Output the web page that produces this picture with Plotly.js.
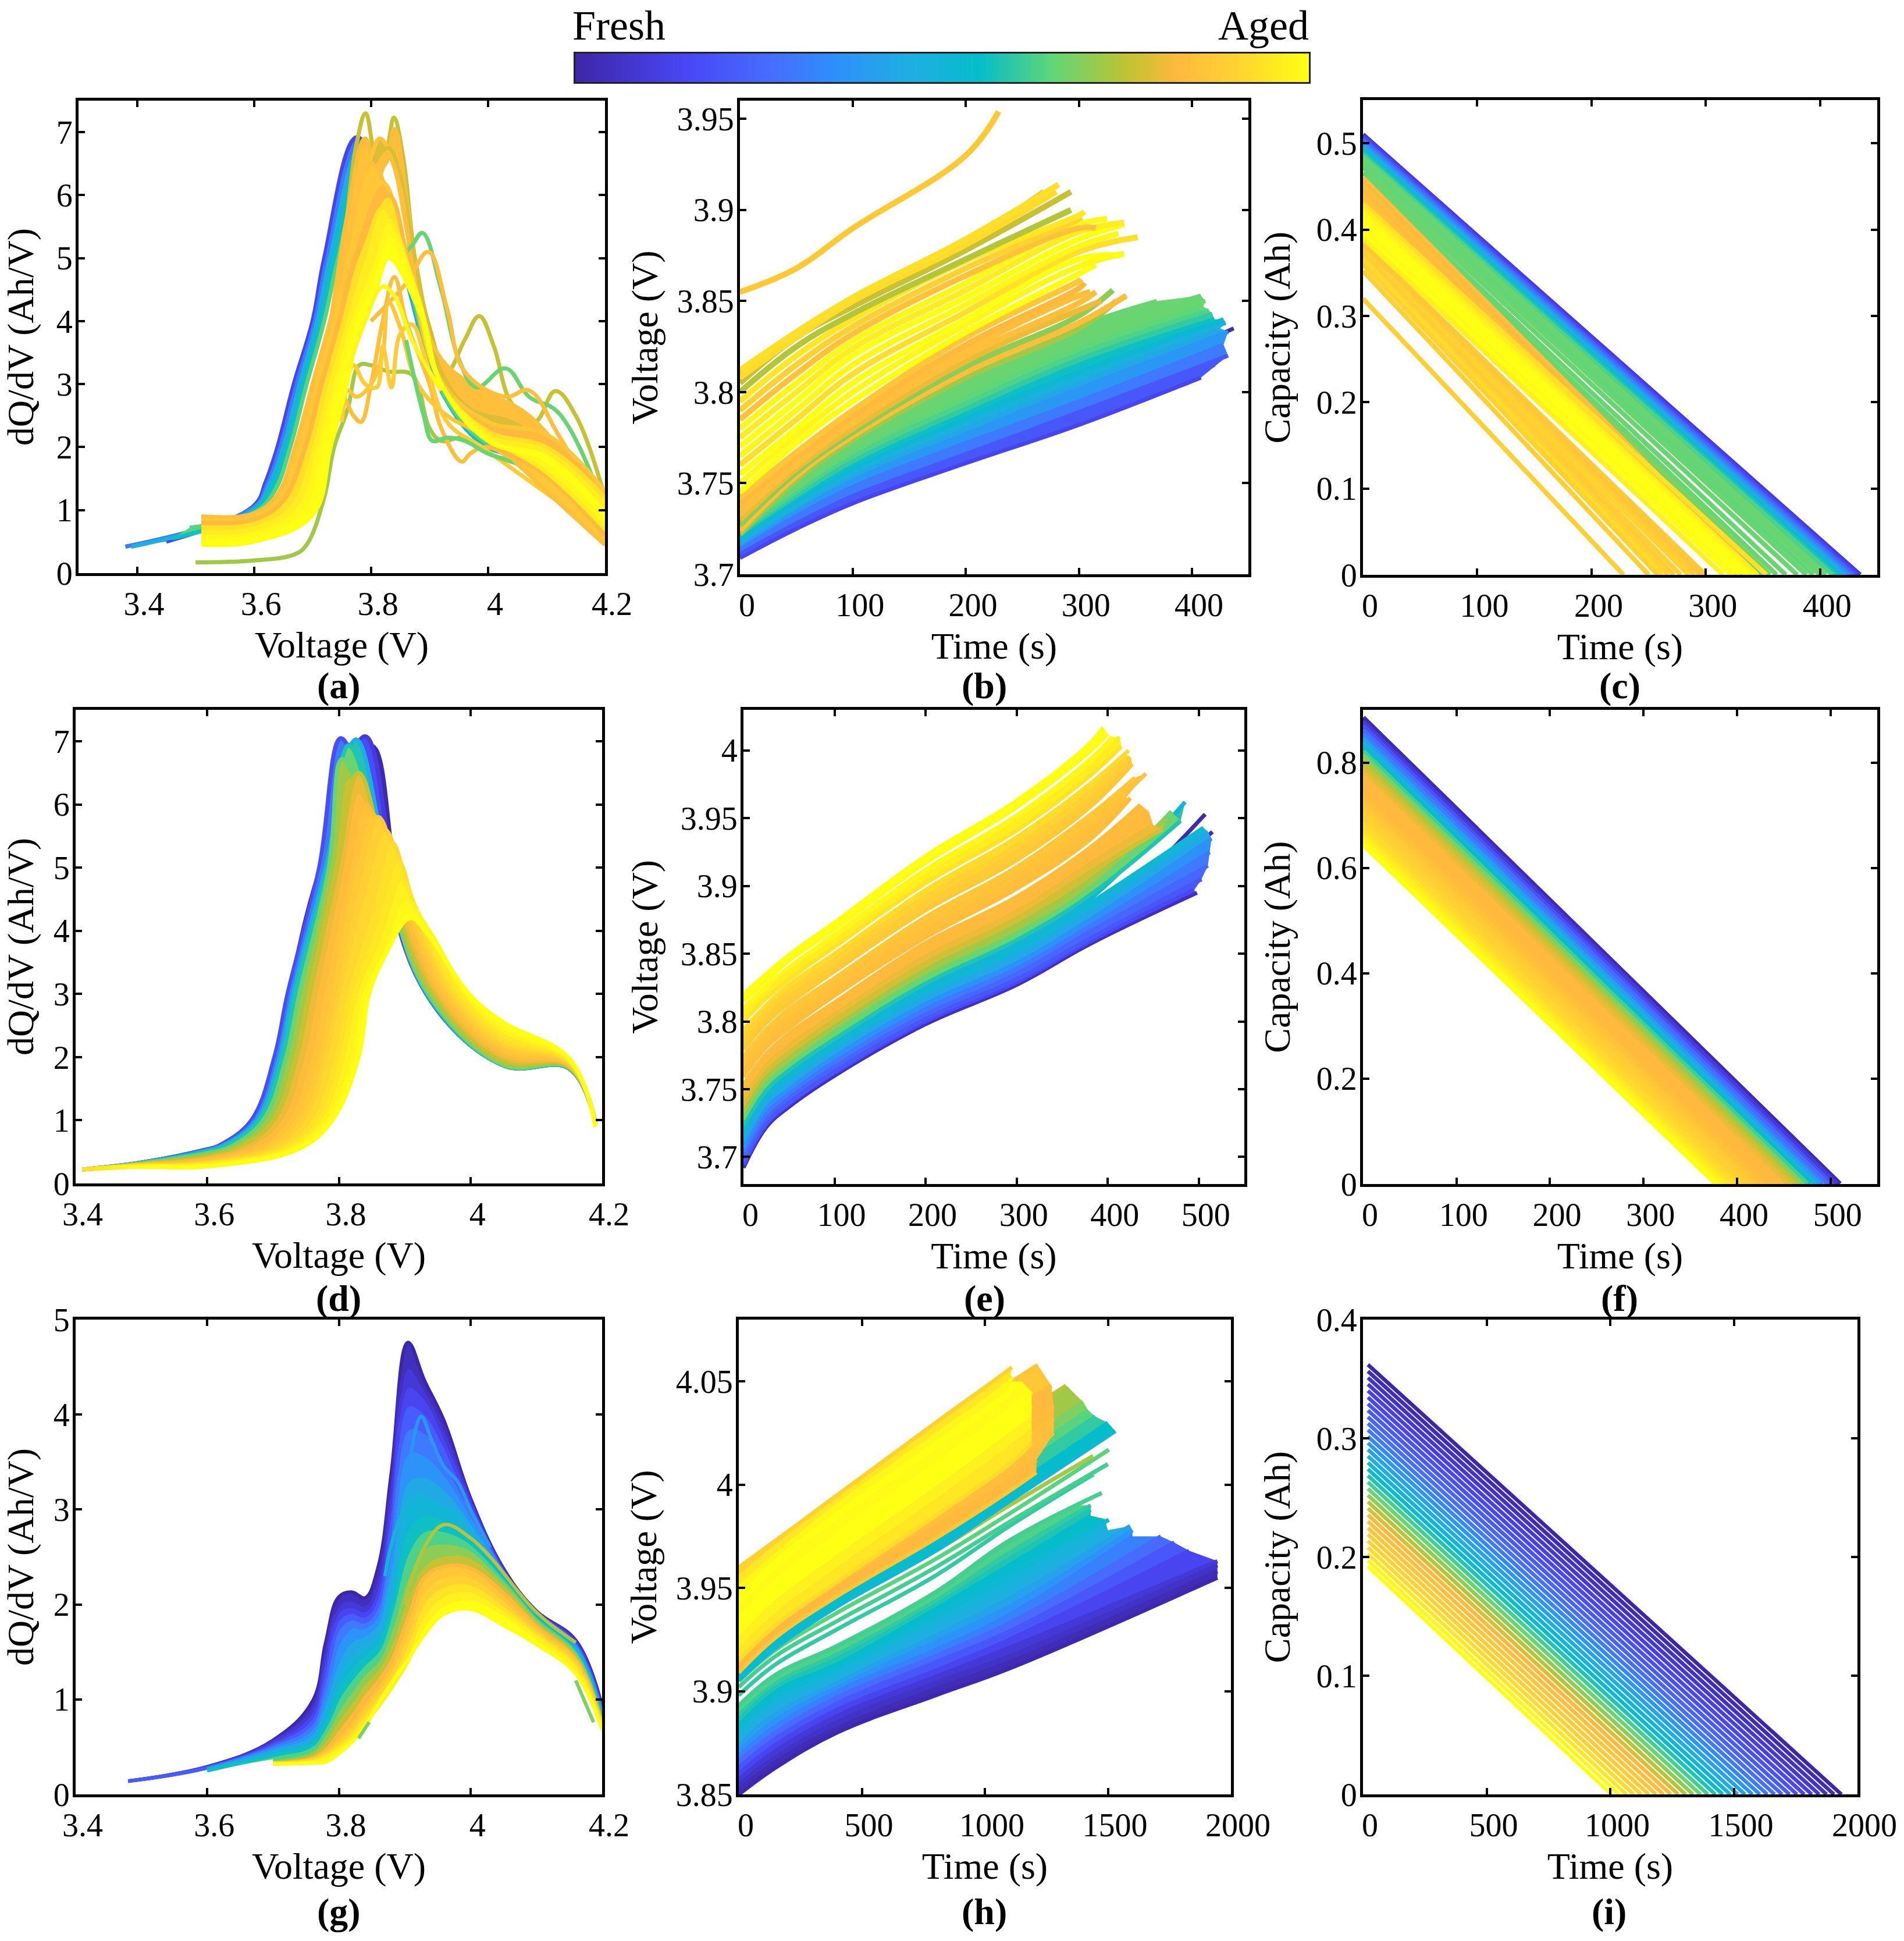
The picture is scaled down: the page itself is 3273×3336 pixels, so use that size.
<!DOCTYPE html>
<html>
<head>
<meta charset="utf-8">
<script src="https://cdn.plot.ly/plotly-3.0.1.min.js"></script>
<style>body{margin:0;background:#fff}#chart{width:3273px;height:3336px}</style>
</head>
<body>
<div id="chart"></div>
<script>
// colour scale, fresh (0) to aged (1)
var agePositions = [0, 0.15, 0.27, 0.36, 0.46, 0.55, 0.65, 0.75, 0.82, 0.9, 1];
var ageColors = ['#3e26a8', '#4846f5', '#466eff', '#2d91fa', '#1eafe1', '#05bccb', '#5fd778', '#bec332', '#ffb93c', '#ffd232', '#ffff14'];
var barValues = [0, 0.1, 0.2, 0.3, 0.4, 0.5, 0.6, 0.7, 0.8, 0.9, 1];

// (a) dQ/dV of first set
var aVolts = [
  [3.45,3.6,3.62,3.64,3.668,3.7,3.72,3.776,3.85,3.92,4,4.1,4.2],
  [3.38,3.6,3.623,3.645,3.673,3.704,3.725,3.78,3.85,3.92,4,4.1,4.2],
  [3.39,3.6,3.626,3.65,3.678,3.708,3.73,3.785,3.85,3.92,4,4.1,4.2],
  [3.46,3.6,3.63,3.656,3.684,3.714,3.737,3.79,3.855,3.92,4,4.1,4.2],
  [3.49,3.6,3.635,3.662,3.69,3.72,3.744,3.795,3.855,3.92,4,4.1,4.2],
  [3.5,3.6,3.67,3.69,3.72,3.737,3.76,3.78,3.8,3.83,3.87,3.9,3.92,3.96,4,4.1,4.2],
  [3.7,3.75,3.775,3.791,3.81,3.825,3.839,3.855,3.875,3.9,3.93,3.96,3.985,4.01,4.04,4.08,4.115,4.15,4.2],
  [3.71,3.76,3.79,3.81,3.825,3.84,3.86,3.88,3.92,3.98,4.05,4.1,4.2],
  [3.72,3.765,3.8,3.815,3.835,3.86,3.88,3.93,4,4.06,4.12,4.2],
  [3.73,3.77,3.8,3.83,3.85,3.875,3.92,3.97,4.04,4.1,4.2],
  [3.74,3.78,3.81,3.83,3.85,3.88,3.92,3.99,4.07,4.2],
  [3.85,3.87,3.888,3.92,3.95,3.98,4.03,4.07,4.12,4.2],
  [3.8,3.86,3.898,3.93,3.96,4.03,4.07,4.12,4.2],
  [3.7,3.75,3.77,3.783,3.8,3.82,3.84,3.86,3.9,3.92,3.955,3.97,4,4.08,4.2],
  [3.74,3.76,3.775,3.8,3.82,3.83,3.85,3.88,3.93,3.99,4.08,4.2],
  [3.75,3.77,3.79,3.81,3.82,3.835,3.85,3.87,3.89,3.93,3.99,4.08,4.2],
  [3.86,3.89,3.905,3.93,3.96,4,4.1],
  [3.51,3.6,3.64,3.67,3.7,3.73,3.755,3.8,3.855,3.92,4,4.1,4.2],
  [3.51,3.6,3.645,3.68,3.708,3.738,3.765,3.82,3.86,3.92,4,4.1,4.2],
  [3.51,3.6,3.65,3.688,3.716,3.746,3.775,3.83,3.865,3.92,4,4.1,4.2],
  [3.51,3.6,3.66,3.696,3.724,3.754,3.787,3.82,3.87,3.92,4,4.1,4.2],
  [3.51,3.6,3.67,3.704,3.732,3.762,3.8,3.83,3.875,3.92,4,4.1,4.2],
  [3.51,3.6,3.68,3.712,3.74,3.77,3.805,3.83,3.88,3.92,4,4.1,4.2],
  [3.51,3.6,3.69,3.72,3.748,3.776,3.81,3.83,3.885,3.92,4,4.1,4.2],
  [3.51,3.6,3.695,3.727,3.754,3.78,3.81,3.83,3.885,3.92,4,4.1,4.2],
  [3.51,3.6,3.7,3.731,3.759,3.783,3.81,3.83,3.885,3.92,4,4.1,4.2],
  [3.76,3.79,3.82,3.84,3.87,3.92]
];
var aRates = [
  [0.5,1.07,1.45,2,3,4,5,6.92,5,2.9,2,1.8,0.9],
  [0.42,1.05,1.42,2,3,4,5,6.85,5,2.9,2,1.8,0.9],
  [0.42,1.02,1.4,2,3,4,5,6.8,5,2.9,2,1.8,0.9],
  [0.55,0.99,1.35,2,3,4,5,6.72,5,2.9,2,1.85,0.9],
  [0.72,0.96,1.3,2,3,4,5,6.65,5,2.92,2.05,1.85,1],
  [0.17,0.2,0.3,0.45,1.2,2,2.6,3.3,3.3,3.2,3.15,2.3,2.1,2.15,1.9,1.6,0.6],
  [2.5,5,6.8,7.3,6.6,6.7,7.23,6.6,5,3.9,3.2,3.7,4.08,3.6,2.7,2.4,2.89,2.5,1.2],
  [2.5,5.7,6.9,6.4,6.5,7.05,6,4.6,3.1,2.5,2.3,2.1,0.8],
  [2.6,5.3,6.6,6.9,6.6,5.5,4.5,2.9,2.4,2,1.5,0.7],
  [2.6,5.2,6.4,6.75,6.3,5,3.2,2.6,2.4,2,0.8],
  [2.7,5,6.1,6.6,6.1,4.4,3.4,2.9,2.5,1],
  [5,5.2,5.4,4.5,3.4,2.95,3.25,2.8,2.55,1],
  [4,4.6,5.1,4.2,3.2,2.8,2.9,2.2,0.9],
  [1.6,2.8,2.5,2.4,3,4,4.7,4,3,2.3,1.77,1.9,2,1.5,0.45],
  [2.4,2.9,2.8,3,3.5,4.3,3.9,3,2.5,2.2,1.6,0.7],
  [2.4,3.3,3,2.95,3.6,2.95,3.8,3.95,3.5,2.4,2,1.4,0.6],
  [3.7,2.5,2.1,2.15,2.1,1.9,1.6],
  [0.9,0.95,1.25,2,3,4,5,6.5,5.2,3,2.2,1.3,0.45],
  [0.85,0.9,1.2,2,3,4,5,6.2,5,3.05,2.4,2.2,1.3],
  [0.8,0.85,1.15,2,3,4,5,6,4.9,3,2.1,1.55,0.6],
  [0.72,0.78,1.1,2,3,4,5,5.8,4.7,3,2.25,2,1.2],
  [0.65,0.7,1.05,2,3,4,4.9,5.6,4.5,3,2.2,1.6,0.7],
  [0.58,0.63,1,2,3,4,4.8,5.4,4.4,3,2.15,1.7,0.8],
  [0.52,0.58,0.98,2,3,4,4.7,5.25,4.2,3,2.1,1.85,0.95],
  [0.47,0.53,0.95,2,3,4,4.6,5.1,4.15,3,2.1,1.82,0.95],
  [0.45,0.5,0.92,2,3,4,4.55,5,4.1,3,2.1,1.8,0.9],
  [3.2,4,4.55,4.4,3.7,2.9]
];
var aAges = [0.14,0.3,0.46,0.56,0.64,0.72,0.76,0.83,0.85,0.78,0.84,0.66,0.84,0.84,0.86,0.88,0.66,0.84,0.86,0.82,0.93,0.96,0.98,0.99,1,1,0.98];
var aOpenRows = [0,5,6,7,11,12,13,14,15,16,17,26];

// (b) voltage against time, first set
var bKnots = [0, 50, 100, 200, 300];
var bVolts = [
  [3.71,3.727,3.741,3.764,3.785],[3.713,3.73,3.745,3.769,3.792],[3.715,3.733,3.75,3.775,3.798],
  [3.709,3.725,3.739,3.761,3.782],[3.711,3.728,3.743,3.766,3.789],[3.714,3.732,3.748,3.772,3.795],[3.716,3.735,3.752,3.777,3.802],[3.717,3.737,3.754,3.78,3.805],
  [3.719,3.738,3.756,3.783,3.808],[3.72,3.74,3.758,3.786,3.811],[3.721,3.742,3.76,3.788,3.815],[3.722,3.743,3.762,3.791,3.818],
  [3.723,3.745,3.765,3.794,3.821],[3.725,3.747,3.767,3.797,3.824],[3.726,3.748,3.769,3.799,3.828],[3.727,3.75,3.771,3.802,3.831],
  [3.73,3.755,3.775,3.806,3.836],
  [3.722,3.752,3.774,3.808,3.835],[3.724,3.754,3.776,3.811,3.838],[3.727,3.756,3.778,3.814,3.842],[3.73,3.758,3.78,3.817,3.845],
  [3.733,3.76,3.783,3.82,3.849],[3.736,3.762,3.785,3.823,3.853],[3.739,3.764,3.787,3.826,3.857],[3.742,3.767,3.79,3.83,3.861],
  [3.745,3.772,3.795,3.833,3.865],[3.75,3.776,3.8,3.837,3.869],[3.755,3.78,3.805,3.84,3.873],[3.76,3.785,3.81,3.844,3.877],
  [3.765,3.79,3.815,3.848,3.88],[3.77,3.795,3.82,3.852,3.884],[3.775,3.8,3.824,3.856,3.888],[3.78,3.805,3.828,3.86,3.892],
  [3.785,3.81,3.832,3.864,3.89],[3.79,3.815,3.836,3.868,3.895],[3.795,3.82,3.84,3.872,3.897],
  [3.8,3.825,3.843,3.873],[3.805,3.83,3.847,3.878],[3.81,3.832,3.85,3.882],[3.808,3.83,3.85,3.881],[3.812,3.833,3.852,3.884],
  [3.855,3.868,3.89,3.93]
];
var bEndTimes = [420,430,437,408,432,428,432,425,430,428,420,418,415,410,412,408,369,333,342,330,320,315,310,305,302,315,340,337,352,335,340,340,325,315,302,305,293,293,269,280,282,229];
var bEndVolts = [3.815,3.823,3.835,3.808,3.82,3.826,3.833,3.835,3.838,3.84,3.84,3.843,3.845,3.847,3.85,3.853,3.85,3.85,3.853,3.856,3.85,3.855,3.855,3.86,3.862,3.87,3.876,3.875,3.885,3.887,3.892,3.893,3.895,3.89,3.896,3.899,3.9,3.91,3.91,3.91,3.914,3.954];
var bAges = [0.02,0.06,0.03,0.14,0.2,0.3,0.38,0.44,0.48,0.52,0.56,0.6,0.63,0.65,0.66,0.66,0.66,0.72,0.84,0.7,0.8,0.84,0.84,0.82,0.86,1,0.98,1,0.93,0.98,1,0.96,0.98,0.85,0.9,0.95,0.74,0.76,0.85,0.92,0.93,0.87];
var bOpenRows = [0,1,2,3];
var bLowerCount = 17;

// (c) capacity against time, first set
var cStart = [0.51,0.507,0.504,0.501,0.498,0.495,0.492,0.489,0.486,0.483,0.48,0.476,0.472,0.466,0.46,0.455,0.45,0.445,0.44,0.436,0.432,0.428,0.46,0.455,0.45,0.445,0.44,0.435,0.385,0.3825,0.38,0.3775,0.375,0.3725,0.37,0.3675,0.365,0.36,0.43,0.425,0.42,0.415,0.41,0.405,0.4,0.395,0.39,0.352,0.32];
var cEnd = [435,432,429,426,423,420,417,414,411,405,400,394,388,380,370,362,356,350,344,338,332,328,345,340,335,330,328,325,300,298,295,290,285,278,272,267,262,258,353,345,342,338,335,330,325,322,315,250,228];
var cAges = [0.1,0.16,0.24,0.32,0.4,0.46,0.52,0.58,0.63,0.66,0.66,0.65,0.66,0.66,0.66,0.66,0.68,0.66,0.7,0.74,0.76,0.78,0.84,0.82,0.84,0.83,0.84,0.85,0.88,0.87,0.86,0.88,0.9,0.89,0.88,0.9,0.92,0.9,0.93,0.96,0.98,1,1,1,0.99,1,0.97,0.89,0.89];

// (d) dQ/dV of second set
var dVolts = [
  [3.41,3.5,3.6,3.62,3.669,3.704,3.724,3.772,3.85,3.89,3.933,4.05,4.15,4.19],
  [3.41,3.5,3.6,3.62,3.669,3.703,3.724,3.772,3.84,3.885,3.933,4.05,4.15,4.19],
  [3.41,3.5,3.6,3.618,3.667,3.702,3.722,3.77,3.803,3.86,3.933,4.05,4.15,4.19],
  [3.41,3.5,3.6,3.622,3.672,3.707,3.727,3.775,3.815,3.87,3.933,4.05,4.15,4.19],
  [3.41,3.5,3.6,3.625,3.675,3.71,3.73,3.78,3.826,3.875,3.934,4.05,4.15,4.19],
  [3.41,3.5,3.6,3.629,3.679,3.714,3.734,3.783,3.815,3.875,3.935,4.05,4.15,4.19],
  [3.41,3.5,3.6,3.635,3.685,3.72,3.74,3.785,3.805,3.87,3.936,4.05,4.15,4.19],
  [3.41,3.5,3.6,3.643,3.693,3.728,3.748,3.79,3.815,3.875,3.94,4.05,4.15,4.19],
  [3.41,3.5,3.6,3.651,3.701,3.736,3.756,3.798,3.83,3.88,3.945,4.05,4.15,4.19],
  [3.41,3.5,3.6,3.66,3.71,3.745,3.765,3.805,3.83,3.885,3.95,4.05,4.15,4.19],
  [3.41,3.5,3.6,3.67,3.72,3.755,3.775,3.815,3.84,3.89,3.955,4.05,4.15,4.19],
  [3.41,3.5,3.6,3.68,3.73,3.765,3.785,3.822,3.85,3.895,3.96,4.05,4.15,4.19],
  [3.41,3.5,3.6,3.688,3.738,3.773,3.793,3.83,3.86,3.9,3.965,4.05,4.15,4.19],
  [3.41,3.5,3.6,3.695,3.745,3.78,3.8,3.838,3.87,3.905,3.97,4.05,4.15,4.19],
  [3.41,3.5,3.6,3.705,3.755,3.79,3.81,3.848,3.88,3.91,3.975,4.05,4.15,4.19],
  [3.41,3.5,3.6,3.713,3.763,3.798,3.818,3.855,3.89,3.915,3.98,4.05,4.15,4.19],
  [3.43,3.5,3.6,3.72,3.771,3.806,3.826,3.862,3.895,3.92,3.985,4.05,4.15,4.19],
  [3.45,3.5,3.6,3.727,3.778,3.815,3.833,3.866,3.9,3.925,3.992,4.05,4.15,4.19],
  [3.47,3.5,3.6,3.733,3.785,3.822,3.84,3.868,3.905,3.93,3.995,4.05,4.15,4.19],
  [3.49,3.52,3.6,3.74,3.79,3.83,3.846,3.87,3.908,3.935,3.998,4.05,4.15,4.19]
];
var dRates = [
  [0.22,0.33,0.54,0.6,1,2,3,5,6.93,4.6,3,1.87,1.82,0.95],
  [0.22,0.33,0.54,0.6,1,2,3,5,7.08,4.8,3,1.87,1.82,0.95],
  [0.22,0.33,0.54,0.6,1,2,3,5,7.05,5.2,3,1.87,1.82,0.95],
  [0.22,0.33,0.53,0.6,1,2,3,5,6.95,5,3,1.87,1.82,0.95],
  [0.22,0.33,0.52,0.6,1,2,3,5,7.03,5,3,1.87,1.82,0.95],
  [0.22,0.32,0.5,0.6,1,2,3,5,6.93,4.9,3,1.87,1.82,0.95],
  [0.22,0.32,0.48,0.58,1,2,3,5,6.72,4.8,3,1.88,1.83,0.95],
  [0.22,0.31,0.45,0.58,1,2,3,5,6.45,4.7,3,1.9,1.84,0.95],
  [0.22,0.3,0.42,0.58,1,2,3,5,6.5,4.7,3,1.95,1.85,0.95],
  [0.22,0.3,0.4,0.57,1,2,3,5,6.2,4.6,3,2,1.86,0.95],
  [0.22,0.3,0.38,0.57,1,2,3,5,6,4.6,3,2.05,1.87,0.95],
  [0.22,0.29,0.36,0.57,1,2,3,4.9,5.85,4.6,3,2.1,1.88,0.95],
  [0.22,0.29,0.34,0.56,1,2,3,4.8,5.8,4.5,3,2.15,1.9,0.94],
  [0.22,0.28,0.33,0.56,1,2,3,4.6,5.6,4.5,3,2.2,1.91,0.93],
  [0.22,0.28,0.32,0.56,1,2,3,4.3,5.4,4.5,3,2.25,1.92,0.92],
  [0.22,0.28,0.31,0.55,1,2,3,4.1,5.1,4.4,3,2.3,1.93,0.92],
  [0.23,0.27,0.3,0.55,1,2,3,3.9,4.8,4.3,3,2.35,1.95,0.91],
  [0.25,0.27,0.29,0.55,1,2,3,3.7,4.5,4.2,3,2.42,1.96,0.9],
  [0.26,0.27,0.28,0.55,1,2,3,3.6,4.3,4.1,3,2.48,1.97,0.9],
  [0.26,0.26,0.27,0.55,1,2,3,3.6,4.2,3.95,3,2.55,1.98,0.9]
];
var dAges = [0.02,0.1,0.17,0.3,0.46,0.58,0.66,0.72,0.76,0.8,0.83,0.85,0.87,0.89,0.91,0.93,0.95,0.97,0.985,1];
var dOpenRows = [0];

// (e) voltage against time, second set
var eKnots = [0, 25, 50, 100, 200, 300, 380];
var eVolts = [
  [3.704,3.732,3.747,3.77,3.809,3.839,3.87],[3.7,3.729,3.744,3.767,3.805,3.835,3.866],[3.692,3.722,3.737,3.76,3.798,3.827,3.857],
  [3.694,3.724,3.739,3.762,3.8,3.829,3.859],[3.696,3.725,3.74,3.763,3.802,3.831,3.861],[3.7,3.729,3.744,3.767,3.805,3.835,3.866],
  [3.704,3.732,3.747,3.77,3.809,3.839,3.87],[3.707,3.736,3.75,3.774,3.813,3.843,3.875],[3.712,3.74,3.755,3.778,3.818,3.849,3.881],
  [3.718,3.745,3.759,3.783,3.823,3.854,3.887],[3.72,3.747,3.762,3.785,3.825,3.857,3.89],[3.723,3.749,3.764,3.787,3.828,3.86,3.893],[3.728,3.754,3.768,3.792,3.833,3.865,3.898],
  [3.733,3.758,3.773,3.796,3.838,3.871,3.904],[3.738,3.763,3.777,3.801,3.843,3.876,3.91],[3.743,3.767,3.782,3.805,3.848,3.881,3.916],
  [3.748,3.772,3.786,3.81,3.853,3.887,3.922],[3.753,3.776,3.791,3.814,3.858,3.892,3.928],[3.759,3.781,3.795,3.819,3.862,3.898,3.934],
  [3.764,3.785,3.8,3.823,3.867,3.903,3.94],[3.769,3.79,3.804,3.828,3.872,3.909,3.946],[3.774,3.794,3.809,3.832,3.877,3.914,3.952],
  [3.779,3.799,3.813,3.837,3.882,3.919,3.958],[3.784,3.803,3.818,3.841,3.887,3.925,3.964],[3.789,3.808,3.822,3.846,3.892,3.93,3.969],
  [3.794,3.812,3.827,3.85,3.897,3.936,3.975],[3.8,3.817,3.831,3.855,3.902,3.941,3.981],[3.805,3.821,3.836,3.859,3.907,3.947,3.987],
  [3.81,3.826,3.84,3.864,3.912,3.952,3.993],[3.815,3.83,3.845,3.868,3.917,3.958,3.999],[3.82,3.835,3.849,3.873,3.922,3.963,4.005]
];
var eEndTimes = [507,515,498,495,503,510,512,514,510,505,485,480,470,465,460,450,445,436,425,420,442,430,427,425,420,423,415,413,405,400,395];
var eEndVolts = [3.953,3.94,3.895,3.897,3.905,3.915,3.925,3.935,3.94,3.943,3.962,3.948,3.955,3.95,3.942,3.945,3.955,3.96,3.965,3.965,3.983,3.98,3.99,3.995,3.997,4,4.003,4.01,4.01,4.012,4.017];
var eAges = [0.02,0.03,0.04,0.16,0.2,0.25,0.3,0.36,0.44,0.52,0.5,0.58,0.66,0.72,0.77,0.8,0.82,0.83,0.835,0.84,0.85,0.86,0.87,0.88,0.9,0.92,0.94,0.96,0.98,0.99,1];
var eOpenRows = [0,1,2,3,10,18,22,26,29];

// (f) capacity against time, second set
var fStart = [0.885,0.877,0.869,0.861,0.853,0.845,0.837,0.829,0.821,0.813,0.805,0.797,0.789,0.781,0.773,0.765,0.757,0.749,0.741,0.733,0.725,0.717,0.709,0.701,0.693,0.685,0.677,0.669,0.661,0.653,0.645];
var fEnd = [510,506,501,497,492,488,484,479,475,470,466,462,457,453,448,444,440,435,431,426,422,418,413,409,404,400,396,391,387,382,378];
var fAges = [0.02,0.1,0.18,0.26,0.32,0.4,0.47,0.54,0.62,0.67,0.72,0.76,0.78,0.8,0.82,0.82,0.82,0.82,0.83,0.84,0.85,0.87,0.88,0.89,0.9,0.91,0.92,0.94,0.96,0.98,1];

// (g) dQ/dV of third set, all read at the same voltages
var gVolts = [3.48,3.6,3.7,3.76,3.78,3.8,3.82,3.84,3.86,3.88,3.905,3.93,3.96,4,4.05,4.1,4.16,4.2];
var gRates = [
  [0.14,0.29,0.57,0.98,1.6,2.08,2.13,2.07,2.4,3.4,4.76,4.36,3.93,3.12,2.38,1.93,1.62,0.93],
  [0.14,0.29,0.56,0.93,1.5,2,2.05,2,2.3,3.25,4.5,4.28,3.86,3.1,2.37,1.93,1.62,0.9],
  [0.14,0.29,0.55,0.88,1.42,1.93,1.98,1.94,2.2,3.1,4.3,4.18,3.78,3.08,2.36,1.92,1.6,0.9],
  [0.14,0.28,0.53,0.82,1.32,1.85,1.92,1.88,2.1,2.95,4.1,4.02,3.68,3.05,2.35,1.92,1.58,0.88],
  [0.14,0.28,0.51,0.76,1.2,1.75,1.85,1.82,2,2.8,3.85,3.82,3.52,3,2.34,1.91,1.57,0.86],
  [null,0.27,0.49,0.7,1.08,1.6,1.76,1.76,1.9,2.6,3.6,3.58,3.38,2.95,2.33,1.91,1.56,0.85],
  [null,0.27,0.47,0.65,0.98,1.42,1.62,1.68,1.82,2.42,3.3,3.35,3.22,2.88,2.32,1.9,1.55,0.84],
  [null,0.26,0.45,0.6,0.88,1.28,1.48,1.58,1.72,2.25,3.05,3.15,3.05,2.8,2.3,1.89,1.53,0.82],
  [null,0.25,0.43,0.56,0.8,1.15,1.35,1.48,1.62,2.08,2.8,2.95,2.9,2.72,2.28,1.88,1.52,0.8],
  [null,0.25,0.41,0.52,0.72,1.02,1.22,1.38,1.52,1.92,2.55,2.78,2.78,2.65,2.26,1.86,1.5,0.78],
  [null,null,0.37,0.47,0.65,0.9,1.1,1.28,1.42,1.75,2.3,2.6,2.65,2.58,2.24,1.84,1.48,0.76],
  [null,null,0.34,0.43,0.58,0.8,0.98,1.18,1.33,1.6,2.1,2.42,2.52,2.5,2.21,1.82,1.46,0.75],
  [null,null,0.33,0.4,0.52,0.7,0.88,1.08,1.25,1.48,1.95,2.3,2.43,2.42,2.17,1.8,1.44,0.74],
  [null,null,0.33,0.38,0.47,0.62,0.78,0.98,1.16,1.4,1.85,2.28,2.4,2.38,2.12,1.77,1.42,0.73],
  [null,null,0.33,0.37,0.44,0.57,0.72,0.92,1.1,1.32,1.72,2.15,2.3,2.3,2.06,1.74,1.4,0.72],
  [null,null,0.33,0.36,0.42,0.53,0.67,0.86,1.05,1.25,1.6,2.03,2.2,2.22,2,1.71,1.37,0.71],
  [null,null,0.32,0.35,0.4,0.5,0.62,0.8,0.98,1.18,1.5,1.9,2.1,2.14,1.95,1.68,1.34,0.7],
  [null,null,0.32,0.34,0.38,0.47,0.58,0.75,0.92,1.12,1.4,1.78,2,2.06,1.9,1.65,1.31,0.69],
  [null,null,0.32,0.33,0.34,0.43,0.55,0.72,0.95,1.17,1.42,1.68,1.9,1.95,1.78,1.58,1.27,0.68]
];
var gAges = [0,0.04,0.09,0.14,0.22,0.3,0.37,0.44,0.5,0.56,0.63,0.7,0.76,0.82,0.86,0.9,0.94,0.97,1];
var gOpenRows = [0];
var gExtraVolts = [
  [3.91,3.925,3.94,3.96,3.98,4,4.03],
  [3.87,3.89,3.917,3.95,3.98,3.99],
  [3.9,3.93,3.96,4,4.03,4.1,4.16],
  [3.83,3.846],
  [4.16,4.187]
];
var gExtraRates = [
  [3.6,3.98,3.75,3.45,3.3,3,2.6],
  [2.3,2.85,3.14,3.03,2.95,2.8],
  [2,2.6,2.84,2.7,2.5,1.92,1.6],
  [0.59,0.76],
  [1.2,0.76]
];
var gExtraAges = [0.38,0.5,0.74,0.68,0.68];

// (h) voltage against time, third set
var hKnots = [0, 150, 400, 800, 1100];
var hVolts = [
  [3.85,3.863,3.88,3.898,3.911],[3.852,3.866,3.882,3.901,3.914],[3.855,3.868,3.885,3.904,3.917],[3.857,3.871,3.888,3.907,3.921],
  [3.86,3.874,3.891,3.91,3.925],[3.863,3.877,3.894,3.914,3.929],[3.866,3.88,3.897,3.917,3.933],[3.869,3.883,3.9,3.92,3.937],
  [3.871,3.886,3.902,3.924,3.941],[3.874,3.889,3.904,3.927,3.945],[3.876,3.892,3.906,3.931,3.949],[3.879,3.895,3.909,3.934,3.953],
  [3.881,3.898,3.911,3.937,3.957],[3.884,3.9,3.913,3.94,3.961],[3.886,3.902,3.916,3.942,3.964],[3.889,3.904,3.918,3.944,3.967],
  [3.891,3.906,3.92,3.946,3.97],[3.893,3.908,3.922,3.948,3.973],
  [3.898,3.913,3.93,3.956,3.98],[3.902,3.917,3.934,3.96,3.982],[3.905,3.92,3.938,3.964,3.986],[3.908,3.923,3.942,3.968,3.99],
  [3.905,3.921,3.941,3.968,3.992],[3.91,3.926,3.947,3.974,3.998],[3.917,3.933,3.954,3.981,4.005],[3.922,3.938,3.959,3.986,4.01],
  [3.928,3.944,3.965,3.992,4.016],[3.94,3.956,3.977,4.004,4.028],[3.942,3.958,3.979,4.006,4.03],
  [3.909,3.926,3.946,3.974,3.997],[3.912,3.93,3.95,3.98,4.002],[3.916,3.933,3.955,3.986,4.01],[3.922,3.939,3.962,3.994,4.018],
  [3.928,3.946,3.968,4,4.024],[3.936,3.954,3.977,4.01,4.034],[3.947,3.965,3.988,4.022,4.049],
  [3.915,3.932,3.953,3.985,4.01],[3.92,3.937,3.959,3.992,4.018],[3.925,3.943,3.965,3.998,4.024],[3.93,3.948,3.97,4.004,4.03],
  [3.935,3.953,3.976,4.01,4.036],[3.94,3.958,3.982,4.016,4.042],[3.945,3.963,3.986,4.02,4.046],[3.95,3.966,3.99,4.024,4.05],
  [3.955,3.97,3.993,4.028,4.054],[3.96,3.973,3.995,4.03,4.056]
];
var hEndTimes = [1945,1945,1945,1945,1830,1770,1715,1600,1600,1590,1500,1490,1504,1430,1430,1430,1380,1475,1441,1500,1504,1440,1530,1500,1450,1420,1400,1340,1330,1209,1210,1280,1280,1280,1270,1215,1190,1190,1190,1190,1190,1150,1110,1110,1105,1109];
var hEndVolts = [3.955,3.958,3.961,3.963,3.968,3.972,3.975,3.975,3.978,3.98,3.978,3.982,3.983,3.985,3.988,3.99,3.99,3.996,4.005,4.01,4.017,4.014,4.026,4.03,4.033,4.036,4.04,4.047,4.048,4.006,4.012,4.025,4.032,4.038,4.048,4.058,4.02,4.026,4.032,4.038,4.045,4.05,4.05,4.052,4.054,4.057];
var hAges = [0.01,0.03,0.06,0.09,0.14,0.2,0.26,0.32,0.37,0.42,0.46,0.49,0.52,0.55,0.58,0.6,0.63,0.62,0.6,0.62,0.64,0.72,0.52,0.55,0.6,0.64,0.68,0.72,0.74,0.86,0.82,0.84,0.84,0.83,0.82,0.86,0.92,0.95,0.97,1,1,0.99,1,0.98,0.95,0.9];
var hOpenRows = [0,18,19,20,21,22,29,36];

// (i) capacity against time, third set
var iStartTime = 20;
var iStart = [0.362,0.3565,0.351,0.3455,0.34,0.3345,0.329,0.3235,0.318,0.3125,0.307,0.3015,0.296,0.2905,0.285,0.2795,0.274,0.2685,0.263,0.2575,0.252,0.2465,0.241,0.2355,0.23,0.2245,0.219,0.2135,0.208,0.2025,0.197,0.192];
var iEnd = [1935,1905,1875,1845,1815,1785,1755,1725,1695,1665,1635,1605,1575,1545,1515,1485,1455,1425,1395,1365,1335,1305,1275,1245,1215,1185,1155,1125,1095,1065,1035,1005];
var iAges = [0,0.03,0.06,0.09,0.12,0.15,0.18,0.21,0.24,0.27,0.3,0.34,0.38,0.42,0.46,0.5,0.54,0.58,0.62,0.66,0.7,0.74,0.78,0.82,0.84,0.86,0.88,0.9,0.92,0.95,0.98,1];

// tick labels
var dqTicks = ['0','1','2','3','4','5','6','7'];
var gTicks = ['0','1','2','3','4','5'];
var voltAxisTicks = ['3.4','3.6','3.8','4','4.2'];
var timeTicksA = ['0','100','200','300','400'];
var timeTicksB = ['0','100','200','300','400','500'];
var timeTicksC = ['0','500','1000','1500','2000'];
var bVoltTicks = ['3.7','3.75','3.8','3.85','3.9','3.95'];
var eVoltTicks = ['3.7','3.75','3.8','3.85','3.9','3.95','4'];
var hVoltTicks = ['3.85','3.9','3.95','4','4.05'];
var cCapTicks = ['0','0.1','0.2','0.3','0.4','0.5'];
var fCapTicks = ['0','0.2','0.4','0.6','0.8'];
var iCapTicks = ['0','0.1','0.2','0.3','0.4'];
var panelLetters = ['(a)','(b)','(c)','(d)','(e)','(f)','(g)','(h)','(i)'];

var W = 3273, H = 3336;
var FONT = 'Liberation Serif';

function ageColor(a) {
    var i = 1;
    while (i < agePositions.length - 1 && agePositions[i] < a) i++;
    var f = (a - agePositions[i-1]) / (agePositions[i] - agePositions[i-1]);
    var c0 = ageColors[i-1], c1 = ageColors[i];
    var out = [0, 1, 2].map(function (k) {
        var v0 = parseInt(c0.substr(1 + 2*k, 2), 16);
        var v1 = parseInt(c1.substr(1 + 2*k, 2), 16);
        return Math.round(v0 + (v1 - v0) * f);
    });
    return 'rgb(' + out.join(',') + ')';
}

var traces = [];

// openRows: rows that are not shaded down to the row before them; no list means no shading
function addCurves(n, xs, ys, ages, width, openRows) {
    for (var i = 0; i < ages.length; i++) {
        var color = ageColor(ages[i]);
        var shaded = openRows && openRows.indexOf(i) < 0;
        traces.push({
            type: 'scatter', mode: 'lines', xaxis: 'x' + n, yaxis: 'y' + n,
            x: Array.isArray(xs[0]) ? xs[i] : xs, y: ys[i],
            line: {color: color, width: width, shape: 'spline', smoothing: 1.1},
            fill: shaded ? 'tonexty' : 'none', fillcolor: color,
            hoverinfo: 'skip', showlegend: false
        });
    }
}

// time panels: the row is read at the shared knots, then one last reading at the end of the curve
function addTimeCurves(n, knots, rows, endTimes, endVolts, ages, width, openRows) {
    var xs = [], ys = [];
    rows.forEach(function (row, i) {
        xs.push(knots.slice(0, row.length).concat(endTimes[i]));
        ys.push(row.concat(endVolts[i]));
    });
    addCurves(n, xs, ys, ages, width, openRows);
}

// capacity panels: straight discharge from the starting capacity to empty
function addCapacityLines(n, t0, starts, ends, ages, width) {
    for (var i = 0; i < ages.length; i++) {
        traces.push({
            type: 'scatter', mode: 'lines', xaxis: 'x' + n, yaxis: 'y' + n,
            x: [t0, ends[i]], y: [starts[i], 0], line: {color: ageColor(ages[i]), width: width},
            hoverinfo: 'skip', showlegend: false
        });
    }
}

addCurves(1, aVolts, aRates, aAges, 7, aOpenRows);
addTimeCurves(2, bKnots, bVolts.slice(0, bLowerCount), bEndTimes, bEndVolts, bAges.slice(0, bLowerCount), 7, bOpenRows);
addTimeCurves(2, bKnots, bVolts.slice(bLowerCount), bEndTimes.slice(bLowerCount), bEndVolts.slice(bLowerCount), bAges.slice(bLowerCount), 10);
addCapacityLines(3, 0, cStart, cEnd, cAges, 8);
addCurves(4, dVolts, dRates, dAges, 7, dOpenRows);
addTimeCurves(5, eKnots, eVolts, eEndTimes, eEndVolts, eAges, 7, eOpenRows);
addCapacityLines(6, 0, fStart, fEnd, fAges, 9);
addCurves(7, gVolts, gRates, gAges, 6, gOpenRows);
addCurves(7, gExtraVolts, gExtraRates, gExtraAges, 6);
addTimeCurves(8, hKnots, hVolts, hEndTimes, hEndVolts, hAges, 7, hOpenRows);
addCapacityLines(9, iStartTime, iStart, iEnd, iAges, 6.5);

// colour bar
traces.push({
    type: 'heatmap', xaxis: 'x10', yaxis: 'y10', z: [barValues], zmin: 0, zmax: 1, zsmooth: 'best',
    colorscale: agePositions.map(function (p, i) { return [p, ageColors[i]]; }),
    showscale: false, hoverinfo: 'skip'
});

var layout = {
    width: W, height: H, margin: {l: 0, r: 0, t: 0, b: 0}, autosize: false,
    paper_bgcolor: '#fff', plot_bgcolor: '#fff', showlegend: false,
    font: {family: FONT, color: '#000', size: 52}, annotations: []
};

function domX(a, b) { return [a / W, b / W]; }
function domY(a, b) { return [1 - b / H, 1 - a / H]; }

function setPanel(n, box, xRange, xTicks, xTitle, yRange, yTicks, yTitle, yStandoff) {
    var common = {
        showline: true, linewidth: 5, linecolor: '#000', mirror: 'allticks', ticks: 'inside',
        ticklen: 11, tickwidth: 4, tickcolor: '#000', showgrid: false, zeroline: false,
        automargin: false, tickfont: {family: FONT, size: 56, color: '#000'}
    };
    layout['xaxis' + n] = Object.assign({}, common, {
        domain: domX(box[0], box[1]), range: xRange, anchor: 'y' + n,
        tickmode: 'array', tickvals: xTicks.map(Number), ticktext: xTicks, ticklabelshift: 12,
        title: {text: xTitle, font: {family: FONT, size: 64, color: '#000'}, standoff: 18}
    });
    layout['yaxis' + n] = Object.assign({}, common, {
        domain: domY(box[2], box[3]), range: yRange, anchor: 'x' + n,
        tickmode: 'array', tickvals: yTicks.map(Number), ticktext: yTicks, ticklabelstandoff: -6,
        title: {text: yTitle, font: {family: FONT, size: 64, color: '#000'}, standoff: yStandoff}
    });
}

var Q = 'dQ/dV (Ah/V)', V = 'Voltage (V)', T = 'Time (s)', C = 'Capacity (Ah)';
setPanel(1, [135,1040,173,985], [3.3,4.2], voltAxisTicks, V, [0,7.5], dqTicks, Q, 24);
setPanel(2, [1272,2146,173,987], [0,450], timeTicksA, T, [3.7,3.96], bVoltTicks, V, 14);
setPanel(3, [2343,3227,172,988], [0,450], timeTicksA, T, [0,0.55], cCapTicks, C, 26);
setPanel(4, [130,1035,1220,2034], [3.4,4.2], voltAxisTicks, V, [0,7.5], dqTicks, Q, 24);
setPanel(5, [1278,2139,1220,2035], [0,550], timeTicksB, T, [3.68,4.03], eVoltTicks, V, 20);
setPanel(6, [2343,3227,1220,2035], [0,550], timeTicksB, T, [0,0.9], fCapTicks, C, 26);
setPanel(7, [130,1035,2268,3084], [3.4,4.2], voltAxisTicks, V, [0,5], gTicks, Q, 24);
setPanel(8, [1270,2116,2268,3084], [0,2000], timeTicksC, T, [3.85,4.08], hVoltTicks, V, 14);
setPanel(9, [2343,3193,2268,3084], [0,2000], timeTicksC, T, [0,0.4], iCapTicks, C, 26);

layout.xaxis10 = {domain: domX(989,2250), anchor: 'y10', range: [0,10], showticklabels: false, ticks: '', showgrid: false, zeroline: false, showline: true, mirror: true, linewidth: 3, linecolor: '#222'};
layout.yaxis10 = {domain: domY(92,141), anchor: 'x10', range: [-0.5,0.5], showticklabels: false, ticks: '', showgrid: false, zeroline: false, showline: true, mirror: true, linewidth: 3, linecolor: '#222'};

function addText(text, px, py, size, bold) {
    layout.annotations.push({
        text: bold ? '<b>' + text + '</b>' : text, xref: 'paper', yref: 'paper',
        x: px / W, y: 1 - py / H, xanchor: 'center', yanchor: 'middle', showarrow: false,
        font: {family: FONT, size: size, color: '#000'}
    });
}

var letterX = [582,1692,2784,582,1692,2784,582,1692,2766];
var letterY = [1178,1178,1178,2231,2231,2231,3285,3285,3285];
panelLetters.forEach(function (s, i) { addText(s, letterX[i], letterY[i], 64, true); });
addText('Fresh', 1064, 44, 72, false);
addText('Aged', 2172, 44, 72, false);

Plotly.newPlot('chart', traces, layout, {staticPlot: true, displayModeBar: false});
</script>
</body>
</html>
